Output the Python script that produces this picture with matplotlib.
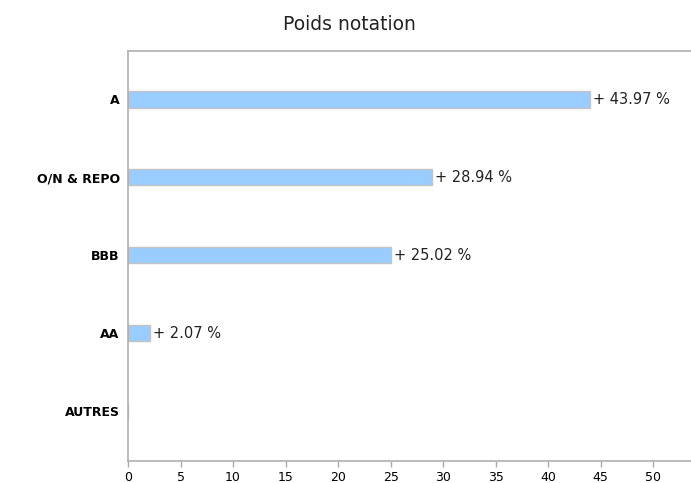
import matplotlib
matplotlib.use("Agg")
import matplotlib.pyplot as plt

# Data
categories = ["A", "O/N & REPO", "BBB", "AA", "AUTRES"]
weights = [43.97, 28.94, 25.02, 2.07, 0.0]
x_ticks = [0, 5, 10, 15, 20, 25, 30, 35, 40, 45, 50]

W, H = 691, 483
fig = plt.figure(figsize=(W / 100, H / 100), dpi=100)

# axes box in pixel coordinates: left 128, right 691, top 51, bottom 461
ax = fig.add_axes([128 / W, (H - 461) / H, (691 - 128) / W, (461 - 51) / H])

ypos = list(range(len(categories)))
bars = ax.barh(ypos, weights, height=0.21, color="#99ccff",
               edgecolor="#c4c4c4", linewidth=1)

# value labels next to each bar (none for empty category)
for bar, val in zip(bars, weights):
    if val <= 0:
        continue
    ax.text(bar.get_width() + 0.3, bar.get_y() + bar.get_height() / 2,
            f"+ {val:.2f} %", va="center", ha="left", fontsize=10.5,
            color="#222222")

ax.set_xlim(0, 53.6)
ax.set_ylim(4.64, -0.62)
ax.set_yticks(ypos)
ax.set_yticklabels(categories, fontweight="bold", fontsize=9)
ax.set_xticks(x_ticks)
ax.set_xticklabels([str(t) for t in x_ticks], fontsize=9)

ax.tick_params(axis="y", length=0, pad=6)
ax.tick_params(axis="x", length=4, width=1, color="#aaaaaa", pad=3)

for side in ["left", "bottom", "top"]:
    ax.spines[side].set_color("#b0b0b0")
    ax.spines[side].set_linewidth(1.2)
ax.spines["right"].set_visible(False)

fig.text(349 / W, 1 - 24 / H, "Poids notation", ha="center", va="center",
         fontsize=13.5, color="#222222")

fig.savefig("out.png", dpi=100)
